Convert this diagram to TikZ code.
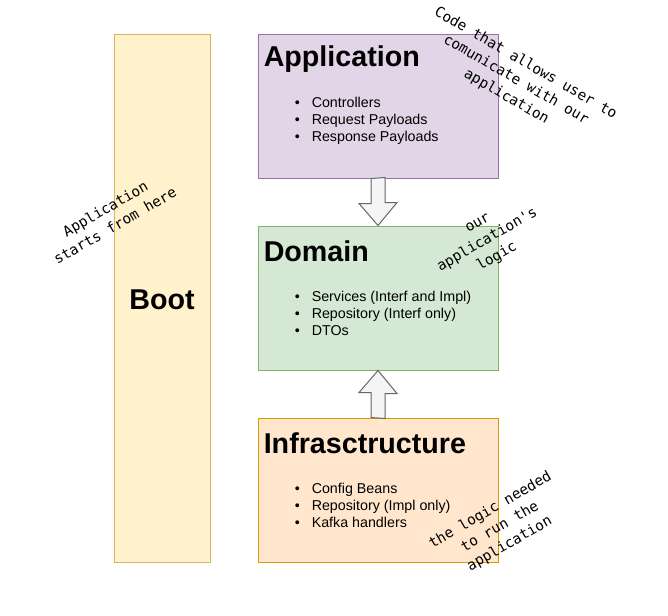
\documentclass[tikz,border=0pt]{standalone}
\usepackage{fontspec}
\setmainfont{Liberation Sans}
\newfontfamily\notefont{DejaVu Sans Mono}
\usetikzlibrary{calc}

\definecolor{appfill}{HTML}{E1D5E7}
\definecolor{appline}{HTML}{9673A6}
\definecolor{domfill}{HTML}{D5E8D4}
\definecolor{domline}{HTML}{82B366}
\definecolor{infrafill}{HTML}{FFE6CC}
\definecolor{infraline}{HTML}{D79B00}
\definecolor{bootfill}{HTML}{FFF2CC}
\definecolor{bootline}{HTML}{D6B656}

\newcommand{\itm}[1]{\textbullet\hspace{9pt}#1}

\begin{document}
\begin{tikzpicture}[x=0.75pt,y=-0.75pt,
    layer/.style={draw,line width=0.75pt,minimum width=180pt,minimum height=108pt,inner sep=0pt},
    title/.style={anchor=west,inner sep=0pt,font=\fontsize{21.5}{24}\selectfont\bfseries},
    items/.style={anchor=west,inner sep=0pt,align=left,font=\fontsize{10.7}{12.75}\selectfont},
    note/.style={align=center,inner sep=0pt,font=\notefont\fontsize{10.8}{14.5}\selectfont},
    blockarrow/.style={draw=black!60,fill=black!4,line width=0.75pt,line join=miter}]
  \useasboundingbox (0,0) rectangle (668,615);

  % the boot column
  \node[draw=bootline,fill=bootfill,line width=0.75pt,minimum width=72pt,minimum height=396pt,inner sep=0pt]
    (boot) at (162,298) {};
  \node[title,anchor=center] (boottitle) at ($(boot.center)+(0,2)$) {Boot};

  % the three layers
  \node[layer,draw=appline,fill=appfill] (app) at (378,106) {};
  \node[layer,draw=domline,fill=domfill] (dom) at (378,298) {};
  \node[layer,draw=infraline,fill=infrafill] (infra) at (378,490) {};

  \node[title] (apptitle) at ($(app.north west)+(6,26)$) {Application};
  \node[items] (appitems) at ($(app.west)+(37,15)$)
    {\itm{Controllers}\\\itm{Request Payloads}\\\itm{Response Payloads}};

  \node[title] (domtitle) at ($(dom.north west)+(6,26)$) {Domain};
  \node[items] (domitems) at ($(dom.west)+(37,15)$)
    {\itm{Services (Interf and Impl)}\\\itm{Repository (Interf only)}\\\itm{DTOs}};

  \node[title] (infratitle) at ($(infra.north west)+(6,26)$) {Infrasctructure};
  \node[items] (infraitems) at ($(infra.west)+(37,15)$)
    {\itm{Config Beans}\\\itm{Repository (Impl only)}\\\itm{Kafka handlers}};

  % block arrows between the layers
  \draw[blockarrow] ($(app.south)+(-7,0)$) -- ++(0,25) -- ++(-12,0) -- (dom.north)
    -- ++(19,-23) -- ++(-12,0) -- ++(0,-25) -- cycle;
  \draw[blockarrow] ($(infra.north)+(-7,0)$) -- ++(0,-25) -- ++(-12,0) -- (dom.south)
    -- ++(19,23) -- ++(-12,0) -- ++(0,25) -- cycle;

  % notes
  \node[note,rotate=-30] (appnote) at (516,80) {Code that allows user to\\comunicate with our\\application};
  \node[note,rotate=30] (bootnote) at (110,217) {Application\\starts from here};
  \node[note,rotate=30] (domnote) at (488,241) {our\\application's\\logic};
  \node[note,rotate=30] (infranote) at (500,527) {the logic needed\\to run the\\application};
\end{tikzpicture}
\end{document}
